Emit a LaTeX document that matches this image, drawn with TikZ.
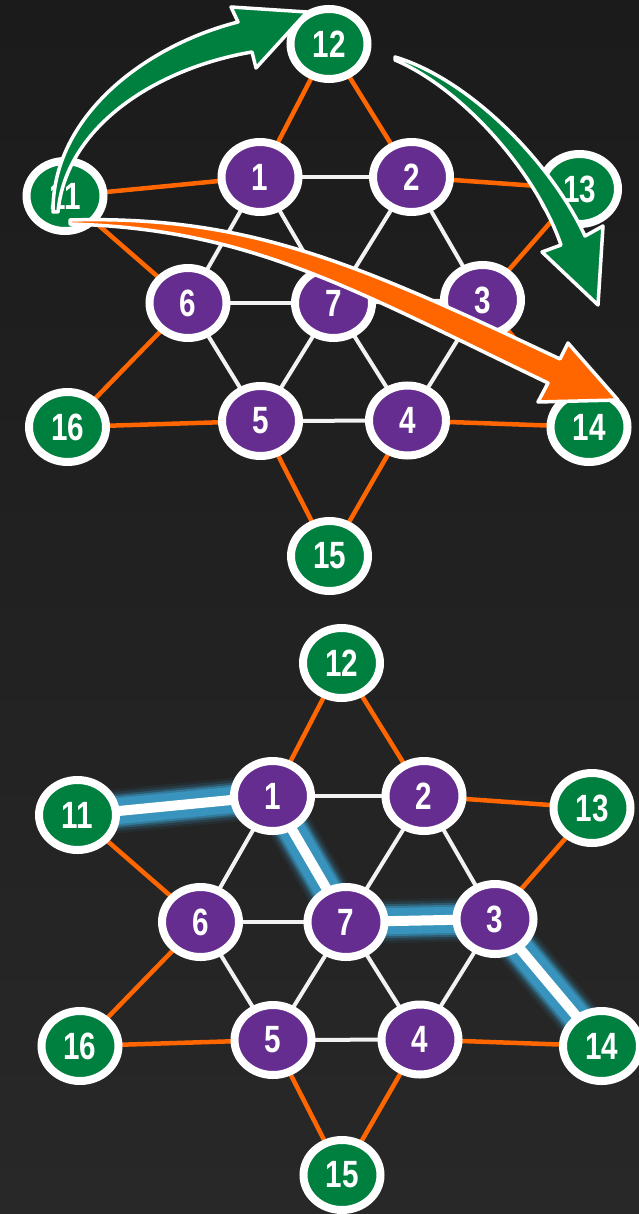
\documentclass[tikz,border=0pt]{standalone}
\usepackage{fontspec}
\newfontfamily\nodefont{Liberation Sans}[FakeStretch=0.78]
\usetikzlibrary{shapes.geometric,shadows}
\definecolor{bgtop}{HTML}{1B1B1B}
\definecolor{bgbot}{HTML}{282828}
\definecolor{pur}{HTML}{652D90}
\definecolor{grn}{HTML}{00803F}
\definecolor{org}{HTML}{FF6600}
\definecolor{edgew}{HTML}{F2F2F2}
\definecolor{glow}{HTML}{3A9CC9}
\pgfdeclarelayer{bg}
\pgfdeclarelayer{edges}
\pgfsetlayers{bg,edges,main}
\tikzset{
 vtx/.style={ellipse, minimum width=77pt, minimum height=70pt, inner sep=0pt,
   line width=8pt, draw=white, text=white,
   font=\nodefont\bfseries\fontsize{38}{38}\selectfont,
   drop shadow={shadow xshift=2pt, shadow yshift=-3pt, opacity=.45, fill=black}},
 innerv/.style={vtx, fill=pur},
 outerv/.style={vtx, fill=grn},
 oedge/.style={draw=org, line width=4.5pt},
 wedge/.style={draw=edgew, line width=4pt},
 bigarrow/.style={draw=white, line width=3.5pt, line join=round},
}
\newcommand\mygraph[1]{%
 \foreach \n/\x/\y in {1/260/177,2/411.5/177,3/482.5/300,4/407.5/420.5,5/260.5/421,6/188/303,7/333.5/303}
   \node[innerv] (#1\n) at (\x,\y) {\n};
 \foreach \n/\x/\y in {11/65/196,12/329/44,13/579.5/189,14/589/427,15/329.5/556,16/67.5/427}
   \node[outerv] (#1\n) at (\x,\y) {\n};
 \begin{pgfonlayer}{edges}
  \foreach \a/\b in {1/2,2/3,3/4,4/5,5/6,6/1,7/1,7/2,7/4,7/5,7/6}
    \draw[wedge] (#1\a.center) -- (#1\b.center);
  \foreach \a/\b in {12/1,12/2,13/2,13/3,14/4,15/4,15/5,16/5,16/6,11/6}
    \draw[oedge] (#1\a.center) -- (#1\b.center);
 \end{pgfonlayer}
}
\begin{document}
\begin{tikzpicture}[x=1pt,y=-1pt]
\useasboundingbox (0,0) rectangle (639,1214);
\begin{pgfonlayer}{bg}
\shade[top color=bgtop, bottom color=bgbot] (0,0) rectangle (639,1214);
\end{pgfonlayer}

% ---------- top graph ----------
\mygraph{a}
\begin{pgfonlayer}{edges}
 \draw[wedge] (a7.center) -- (a3.center);
 \draw[oedge] (a11.center) -- (a1.center);
 \draw[oedge] (a3.center) -- (a14.center);
\end{pgfonlayer}

% arrows
\filldraw[bigarrow, fill=grn]
 (53,212) .. controls (52,117) and (144,46) .. (238,22) -- (231,7) -- (307,12)
 -- (256,68) -- (252,52) .. controls (158,68) and (66,125) .. (58,212) -- cycle;
\filldraw[bigarrow, fill=grn]
 (395,57) .. controls (469,79) and (551,162) .. (585,236) -- (603,226) -- (598,305)
 -- (542,252) -- (561,245) .. controls (535,170) and (461,88) .. (395,60) -- cycle;
\filldraw[bigarrow, fill=org]
 (70,220) .. controls (250,215) and (360,265) .. (560,359) -- (568,343) -- (618,400)
 -- (538,402) -- (548,383) .. controls (350,288) and (250,229) .. (70,224) -- cycle;

% ---------- bottom graph ----------
\begin{scope}[shift={(12.5,619)}]
\mygraph{b}
\begin{pgfonlayer}{edges}
 \foreach \w/\o in {44/0.08,39/0.15,34/0.3,30/0.5,26/0.75}
   \draw[glow, line width=\w pt, opacity=\o, line join=round]
     (b11.center) -- (b1.center) -- (b7.center) -- (b3.center) -- (b14.center);
 \draw[white, line width=10pt, line join=round]
     (b11.center) -- (b1.center) -- (b7.center) -- (b3.center) -- (b14.center);
\end{pgfonlayer}
\end{scope}
\end{tikzpicture}
\end{document}
